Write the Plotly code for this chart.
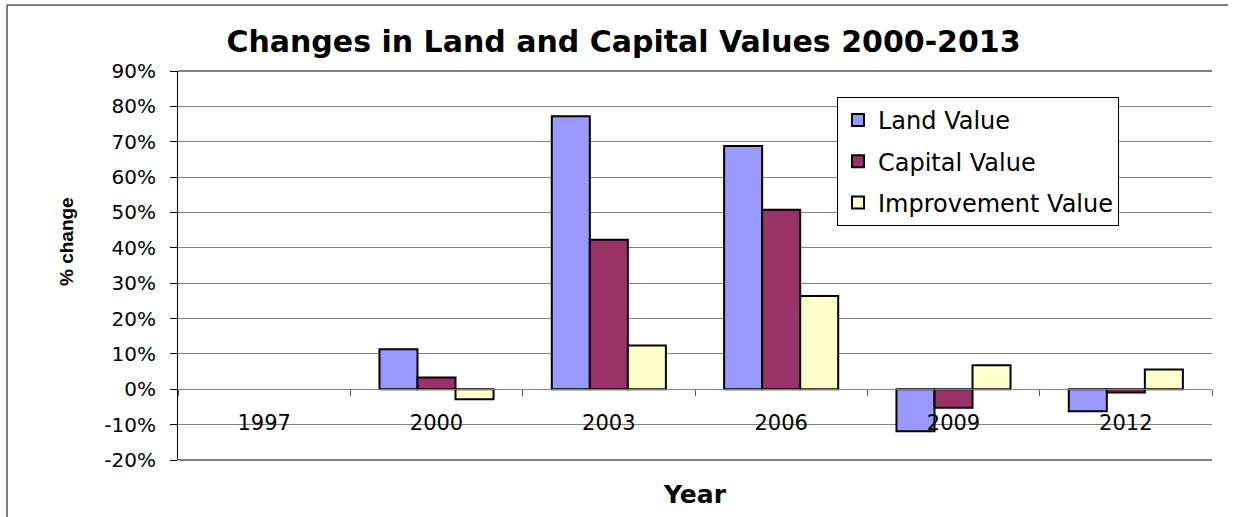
import plotly.graph_objects as go

# Survey years on the category axis
years = ["1997", "2000", "2003", "2006", "2009", "2012"]

# Percentage change per revaluation (1997 has no prior value, so no bars)
land_value = [None, 0.113, 0.772, 0.688, -0.119, -0.062]
capital_value = [None, 0.033, 0.423, 0.508, -0.052, -0.009]
improvement_value = [None, -0.028, 0.124, 0.264, 0.068, 0.056]

y_ticks = [-0.2, -0.1, 0.0, 0.1, 0.2, 0.3, 0.4, 0.5, 0.6, 0.7, 0.8, 0.9]
y_ticktext = [f"{round(v * 100)}%" for v in y_ticks]

W, H = 1233, 517
ML, MR, MT, MB = 178, 21, 71, 57
PW, PH = W - ML - MR, H - MT - MB


def px_x(x):
    return (x - ML) / PW


def px_y(y):
    return (H - MB - y) / PH


series = [
    ("Land Value", land_value, "#9999FF"),
    ("Capital Value", capital_value, "#993366"),
    ("Improvement Value", improvement_value, "#FFFFCC"),
]

fig = go.Figure()
for name, vals, color in series:
    fig.add_trace(go.Bar(
        x=years, y=vals, name=name, legendgroup=name,
        marker=dict(color=color, line=dict(color="black", width=2)),
    ))

y_lo, y_hi = y_ticks[0], y_ticks[-1]
zero_pos = (0 - y_lo) / (y_hi - y_lo)

fig.update_layout(
    width=W, height=H,
    margin=dict(l=ML, r=MR, t=MT, b=MB),
    paper_bgcolor="white", plot_bgcolor="white",
    barmode="group", bargap=0.338, bargroupgap=0,
    font=dict(family="DejaVu Sans", color="black"),
    title=dict(
        text="Changes in Land and Capital Values 2000-2013",
        x=623.5 / W, xref="container", xanchor="center",
        y=1 - 41 / H, yref="container", yanchor="middle",
        font=dict(family="DejaVu Sans", size=30, weight="bold", color="black"),
    ),
    xaxis=dict(
        type="category", categoryorder="array", categoryarray=years,
        range=[-0.5, len(years) - 0.5],
        anchor="free", position=zero_pos,
        showline=True, linecolor="#808080", linewidth=1,
        ticks="outside", tickson="boundaries", ticklen=6, tickcolor="#555555",
        showgrid=False, zeroline=False,
        tickfont=dict(size=21, color="black"),
        ticklabelstandoff=15,
    ),
    yaxis=dict(
        range=[y_lo, y_hi], tickvals=y_ticks, ticktext=y_ticktext,
        showgrid=True, gridcolor="#808080", gridwidth=1,
        zeroline=False,
        showline=True, linecolor="black", linewidth=1,
        ticks="outside", ticklen=7, tickcolor="black",
        tickfont=dict(size=20, color="black"),
        ticklabelstandoff=10,
    ),
    legend=dict(
        x=px_x(837), y=px_y(97), xanchor="left", yanchor="top",
        bgcolor="white", bordercolor="black", borderwidth=1,
        font=dict(size=24, color="black"),
        traceorder="grouped", tracegroupgap=7,
    ),
    showlegend=True,
)

# Frame lines along the top and bottom of the plot area
for yy in (0, 1):
    fig.add_shape(type="line", xref="paper", yref="paper",
                  x0=0, x1=1, y0=yy, y1=yy,
                  line=dict(color="black", width=1))

# Outer chart border (left and top edges)
fig.add_shape(type="line", xref="paper", yref="paper",
              x0=px_x(7), x1=px_x(7), y0=px_y(5), y1=px_y(530),
              line=dict(color="black", width=1))
fig.add_shape(type="line", xref="paper", yref="paper",
              x0=px_x(7), x1=px_x(1228), y0=px_y(5), y1=px_y(5),
              line=dict(color="black", width=1))

# Axis titles
fig.add_annotation(
    text="% change", textangle=-90, showarrow=False,
    xref="paper", yref="paper", x=px_x(66), y=px_y(242),
    xanchor="center", yanchor="middle",
    font=dict(family="Liberation Sans", size=19, weight="bold", color="black"),
)
fig.add_annotation(
    text="Year", showarrow=False,
    xref="paper", yref="paper", x=0.5, y=px_y(494),
    xanchor="center", yanchor="middle",
    font=dict(family="DejaVu Sans", size=25, weight="bold", color="black"),
)

fig.write_html("out.html")
